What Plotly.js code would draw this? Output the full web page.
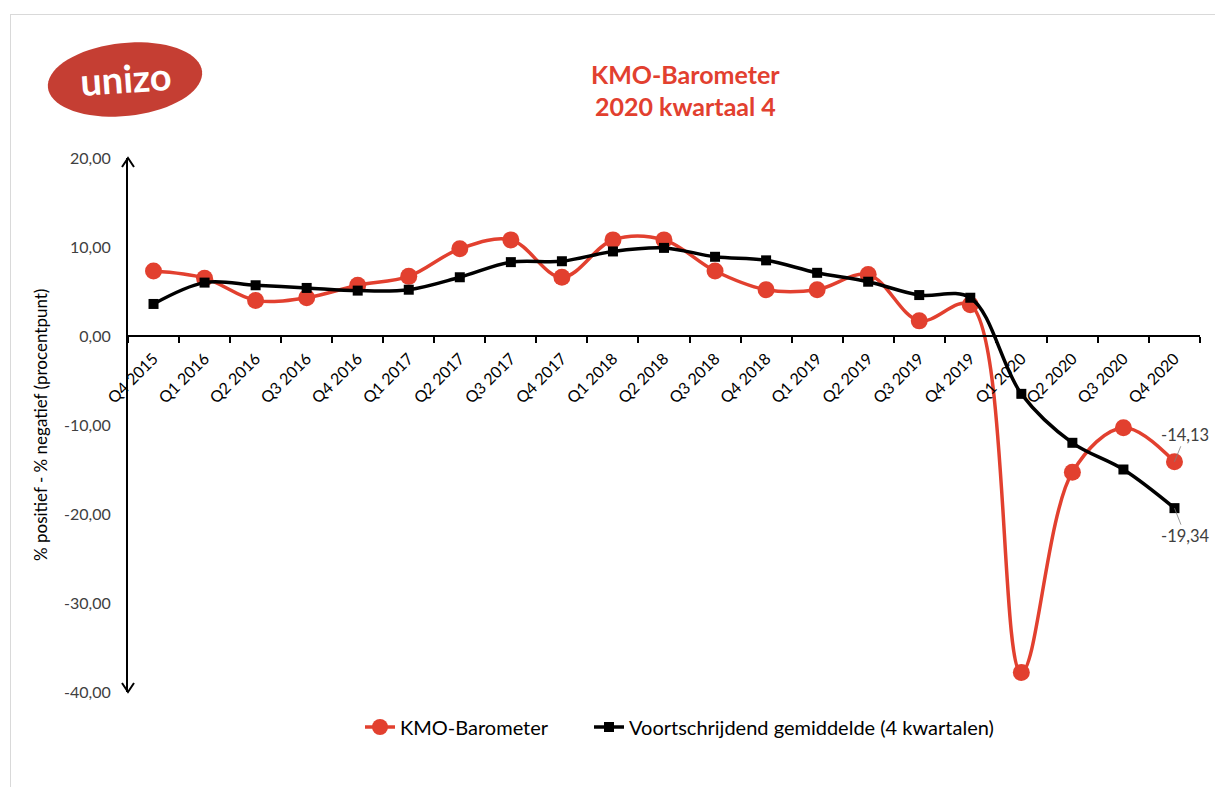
<!DOCTYPE html>
<html>
<head>
<meta charset="utf-8">
<script src="https://cdn.plot.ly/plotly-3.0.1.min.js"></script>
<style>
  html, body { margin: 0; padding: 0; background: #ffffff; }
  #wrap { position: relative; width: 1215px; height: 787px; overflow: hidden; }
  #chart { position: absolute; left: 0; top: 0; width: 1215px; height: 787px; }
  #frame { position: absolute; left: 10px; top: 14px; width: 1220px; height: 790px;
           border: 1px solid #d9d9d9; pointer-events: none; z-index: 5; }
</style>
</head>
<body>
<div id="wrap">
  <div id="chart"></div>
  <div id="frame"></div>
</div>
<script>
const quarters = ["Q4 2015","Q1 2016","Q2 2016","Q3 2016","Q4 2016","Q1 2017","Q2 2017","Q3 2017",
  "Q4 2017","Q1 2018","Q2 2018","Q3 2018","Q4 2018","Q1 2019","Q2 2019","Q3 2019","Q4 2019",
  "Q1 2020","Q2 2020","Q3 2020","Q4 2020"];
const kmoBarometer = [7.3, 6.5, 4.0, 4.3, 5.7, 6.7, 9.8, 10.8, 6.6, 10.8, 10.8, 7.3, 5.2, 5.2, 6.9,
  1.7, 3.5, -37.8, -15.3, -10.3, -14.13];
const voortschrijdend = [3.6, 6.0, 5.7, 5.4, 5.1, 5.2, 6.6, 8.3, 8.4, 9.5, 9.9, 8.9, 8.5, 7.1, 6.1,
  4.6, 4.3, -6.5, -12.0, -15.0, -19.34];
const seriesNames = ["KMO-Barometer", "Voortschrijdend gemiddelde (4 kwartalen)"];
const titleLines = ["KMO-Barometer", "2020 kwartaal 4"];
const yAxisTitle = "% positief - % negatief (procentpunt)";
const yTicks = [-40, -30, -20, -10, 0, 10, 20];

const RED = "#E2402F";
const FONT = "Lato, 'Open Sans', sans-serif";
const lastIdx = quarters.length - 1;

// number format with decimal comma and a plain hyphen for negatives
const fmt = v => v.toFixed(2).replace(".", ",");

const traces = [
  {
    x: quarters, y: kmoBarometer, name: seriesNames[0], type: "scatter", mode: "lines+markers",
    line: { color: RED, width: 3.5, shape: "spline", smoothing: 1 },
    marker: { color: RED, size: 17, symbol: "circle" },
    cliponaxis: false, legend: "legend"
  },
  {
    x: quarters, y: voortschrijdend, name: seriesNames[1], type: "scatter", mode: "lines+markers",
    line: { color: "#000000", width: 3.5, shape: "spline", smoothing: 1 },
    marker: { color: "#000000", size: 10, symbol: "square" },
    cliponaxis: false, legend: "legend2"
  }
];

// pixel helpers for decoration placement (figure pixels -> paper fractions)
const PL = 128, PR = 1200, PT = 158, PB = 692;
const px = x => (x - PL) / (PR - PL);
const py = y => (PB - y) / (PB - PT);

// tilted logo ellipse (pixel path around its centre)
function ellipsePath(a, b, deg) {
  const t = deg * Math.PI / 180, pts = [];
  for (let i = 0; i <= 72; i++) {
    const u = i / 72 * 2 * Math.PI;
    const ex = a * Math.cos(u), ey = b * Math.sin(u);
    pts.push((ex * Math.cos(t) - ey * Math.sin(t)).toFixed(2) + " " + (ex * Math.sin(t) + ey * Math.cos(t)).toFixed(2));
  }
  return "M " + pts.join(" L ") + " Z";
}

const legendBase = {
  orientation: "h", xanchor: "left", y: py(727), yanchor: "middle",
  font: { family: FONT, size: 20, color: "#000000" },
  bgcolor: "rgba(0,0,0,0)", borderwidth: 0
};

const layout = {
  width: 1215, height: 787,
  margin: { l: PL, r: 1215 - PR, t: PT, b: 787 - PB },
  paper_bgcolor: "#ffffff", plot_bgcolor: "rgba(0,0,0,0)",
  separators: ",.",
  font: { family: FONT, color: "#404040", size: 15 },
  showlegend: true,
  xaxis: {
    type: "category", range: [-0.5, 20.5], fixedrange: true,
    anchor: "free", position: 40 / 60,
    showline: true, linecolor: "#000000", linewidth: 2,
    ticks: "outside", tickson: "boundaries", ticklen: 6, tickwidth: 2, tickcolor: "#000000",
    tickangle: -45, ticklabelstandoff: 6,
    tickfont: { family: FONT, size: 16, color: "#000000" },
    showgrid: false, zeroline: false
  },
  yaxis: {
    range: [-40, 20], fixedrange: true,
    tickvals: yTicks, ticktext: yTicks.map(fmt),
    showline: true, linecolor: "#000000", linewidth: 2,
    ticks: "", ticklabelstandoff: 12,
    tickfont: { family: FONT, size: 16, color: "#404040" },
    showgrid: false, zeroline: false
  },
  legend: Object.assign({}, legendBase, { x: px(360) }),
  legend2: Object.assign({}, legendBase, { x: px(589) }),
  shapes: [
    { type: "path", xref: "paper", yref: "paper", xsizemode: "pixel", ysizemode: "pixel",
      xanchor: px(125), yanchor: py(79.5), path: ellipsePath(77.5, 36.5, 6),
      fillcolor: "#C53E33", line: { width: 0 }, layer: "above" },
    { type: "path", xref: "paper", yref: "paper", xsizemode: "pixel", ysizemode: "pixel",
      xanchor: 0, yanchor: 1, path: "M -6 -9 L 0 0 L 6 -9",
      line: { color: "#000000", width: 2 } },
    { type: "path", xref: "paper", yref: "paper", xsizemode: "pixel", ysizemode: "pixel",
      xanchor: 0, yanchor: 0, path: "M -6 9 L 0 0 L 6 9",
      line: { color: "#000000", width: 2 } }
  ],
  annotations: [
    { text: "<b>unizo</b>", xref: "paper", yref: "paper",
      x: px(125), y: py(78), showarrow: false, textangle: -4,
      xanchor: "center", yanchor: "middle",
      font: { family: FONT, size: 38, color: "#ffffff" } },
    { text: "<b>" + titleLines[0] + "</b>", xref: "paper", yref: "paper", x: px(685), y: py(74),
      showarrow: false, xanchor: "center", yanchor: "middle",
      font: { family: FONT, size: 25, color: RED } },
    { text: "<b>" + titleLines[1] + "</b>", xref: "paper", yref: "paper", x: px(685), y: py(106),
      showarrow: false, xanchor: "center", yanchor: "middle",
      font: { family: FONT, size: 25, color: RED } },
    { text: yAxisTitle, xref: "paper", yref: "paper", x: px(40), y: 0.5,
      textangle: -90, showarrow: false, xanchor: "center", yanchor: "middle",
      font: { family: FONT, size: 17, color: "#000000" } },
    { text: fmt(kmoBarometer[lastIdx]), x: quarters[lastIdx], y: kmoBarometer[lastIdx],
      xref: "x", yref: "y", showarrow: true, arrowhead: 0, arrowwidth: 0.8, arrowcolor: "#7f7f7f",
      ax: 11, ay: -27, standoff: 0, font: { family: FONT, size: 16.5, color: "#404040" } },
    { text: fmt(voortschrijdend[lastIdx]), x: quarters[lastIdx], y: voortschrijdend[lastIdx],
      xref: "x", yref: "y", showarrow: true, arrowhead: 0, arrowwidth: 0.8, arrowcolor: "#7f7f7f",
      ax: 11, ay: 28, standoff: 0, font: { family: FONT, size: 16.5, color: "#404040" } }
  ]
};

Plotly.newPlot("chart", traces, layout, { displayModeBar: false, staticPlot: true });
</script>
</body>
</html>
